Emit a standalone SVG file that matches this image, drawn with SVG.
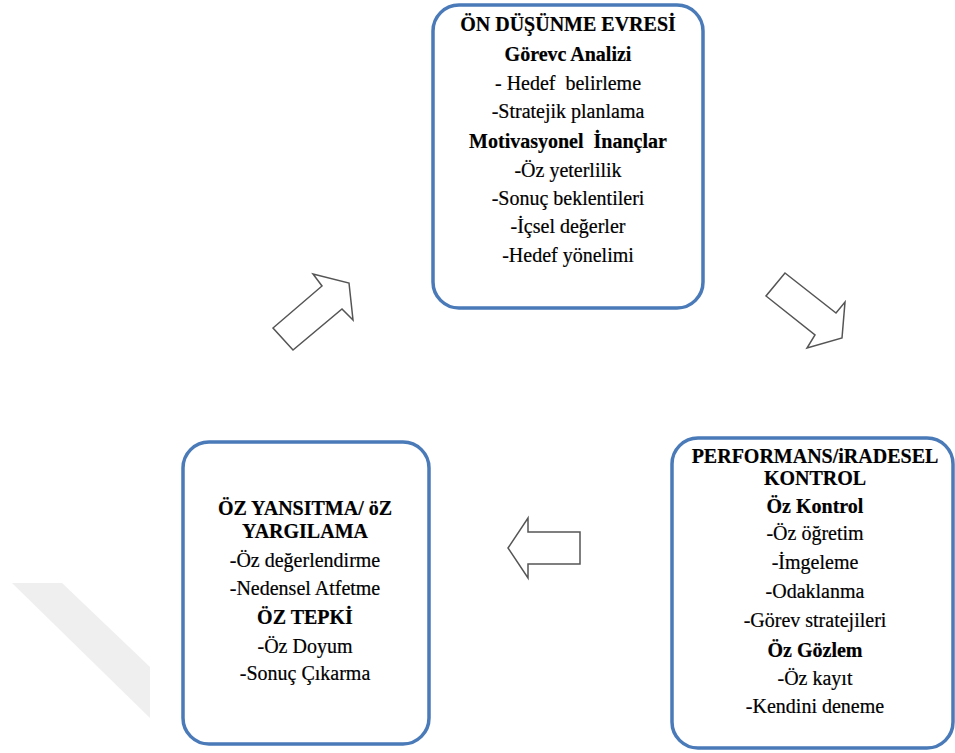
<svg xmlns="http://www.w3.org/2000/svg" width="955" height="753" viewBox="0 0 955 753">
<style>
.box{fill:#ffffff;stroke:#4a7ab8;stroke-width:3.5}
.t{font-family:'Liberation Serif','Times New Roman',Times,serif;font-size:20px;fill:#000;text-anchor:middle;stroke:#000;stroke-width:0.2}
.b{font-weight:bold}
.arrow{fill:#ffffff;stroke:#555555;stroke-width:1.5;stroke-linejoin:miter}
</style>
<rect width="955" height="753" fill="#ffffff"/>
<polygon points="12,583 62,583 150,667 150,718" fill="#efefef"/>
<g id="connectors">
<polygon class="arrow" points="273,328 322,286 313,274 349,283 353,320 342,309 293,350"/>
<polygon class="arrow" points="785,273 836,313 845,302 842,338 807,348 815,335 766,296"/>
<polygon class="arrow" points="508,548 528,518 528,532 580,532 580,564 528,564 528,578"/>
</g>
<g id="node-on-dusunme">
<rect class="box" x="433" y="5" width="270" height="303" rx="26"/>
<text class="t b" x="568" y="31">ÖN DÜŞÜNME EVRESİ</text>
<text class="t b" x="568" y="61">Görevc Analizi</text>
<text class="t" x="568" y="90" xml:space="preserve">- Hedef  belirleme</text>
<text class="t" x="568" y="118">-Stratejik planlama</text>
<text class="t b" x="568" y="148" xml:space="preserve">Motivasyonel  İnançlar</text>
<text class="t" x="568" y="177">-Öz yeterlilik</text>
<text class="t" x="568" y="205">-Sonuç beklentileri</text>
<text class="t" x="568" y="233">-İçsel değerler</text>
<text class="t" x="568" y="262">-Hedef yönelimi</text>
</g>
<g id="node-performans">
<rect class="box" x="672" y="438" width="281" height="310" rx="26"/>
<text class="t b" x="815" y="463">PERFORMANS/iRADESEL</text>
<text class="t b" x="815" y="485">KONTROL</text>
<text class="t b" x="815" y="513">Öz Kontrol</text>
<text class="t" x="815" y="540">-Öz öğretim</text>
<text class="t" x="815" y="569">-İmgeleme</text>
<text class="t" x="815" y="598">-Odaklanma</text>
<text class="t" x="815" y="627">-Görev stratejileri</text>
<text class="t b" x="815" y="657">Öz Gözlem</text>
<text class="t" x="815" y="685">-Öz kayıt</text>
<text class="t" x="815" y="713">-Kendini deneme</text>
</g>
<g id="node-oz-yansitma">
<rect class="box" x="183" y="442" width="246" height="302" rx="26"/>
<text class="t b" x="305" y="515">ÖZ YANSITMA/ öZ</text>
<text class="t b" x="305" y="538">YARGILAMA</text>
<text class="t" x="305" y="567">-Öz değerlendirme</text>
<text class="t" x="305" y="595">-Nedensel Atfetme</text>
<text class="t b" x="305" y="624">ÖZ TEPKİ</text>
<text class="t" x="305" y="653">-Öz Doyum</text>
<text class="t" x="305" y="680">-Sonuç Çıkarma</text>
</g>
</svg>
